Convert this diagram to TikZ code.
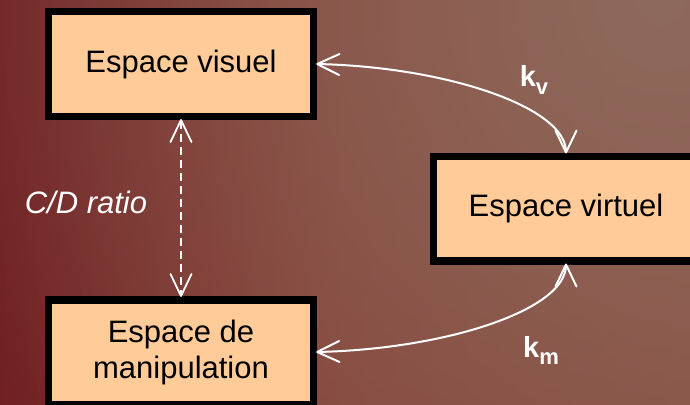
\documentclass[tikz,border=0pt]{standalone}
\usepackage{fontspec}
\setmainfont{Liberation Sans}
\usetikzlibrary{arrows.meta,fadings}
\definecolor{bgL}{RGB}{112,32,34}
\definecolor{bgM}{RGB}{134,64,55}
\definecolor{bgR}{RGB}{136,74,62}
\definecolor{bgG}{RGB}{142,106,92}
\definecolor{peach}{RGB}{255,204,153}
\pgfdeclarearrow{
  name=VBarb,
  parameters={\the\pgfarrowlength,\the\pgfarrowwidth},
  setup code={
    \pgfarrowssettipend{0pt}
    \pgfarrowssetbackend{-\pgfarrowlength}
    \pgfarrowssetlineend{-0.8pt}
    \pgfarrowshullpoint{0pt}{0pt}
    \pgfarrowsupperhullpoint{-\pgfarrowlength}{.5\pgfarrowwidth}
    \pgfarrowssavethe\pgfarrowlength
    \pgfarrowssavethe\pgfarrowwidth
  },
  drawing code={
    \pgfsetdash{}{0pt}
    \pgfsetroundcap
    \pgfsetroundjoin
    \pgfpathmoveto{\pgfqpoint{-\pgfarrowlength}{.5\pgfarrowwidth}}
    \pgfpathlineto{\pgfqpoint{0pt}{0pt}}
    \pgfpathlineto{\pgfqpoint{-\pgfarrowlength}{-.5\pgfarrowwidth}}
    \pgfusepathqstroke
  },
  defaults={length=22pt,width=21pt}
}
\tikzfading[name=trfade, inner color=transparent!0, outer color=transparent!100]
\tikzset{
  box/.style={draw=black, fill=peach, line width=7.5pt, minimum width=265pt,
    minimum height=104.5pt, inner sep=0pt, align=center,
    font=\fontsize{31}{36}\selectfont},
  link/.style={draw=white, line width=2pt, {VBarb}-{VBarb}},
  dlink/.style={link, line width=1.8pt, dash pattern=on 8pt off 5pt},
  klabel/.style={text=white, font=\bfseries\fontsize{29}{30}\selectfont, inner sep=0pt},
  cdlabel/.style={text=white, font=\itshape\fontsize{31}{36}\selectfont, inner sep=0pt}
}
\begin{document}
\begin{tikzpicture}[x=1pt,y=-1pt]
\useasboundingbox (0,0) rectangle (690,404);
\clip (0,0) rectangle (690,404);
\shade[left color=bgL, right color=bgR, middle color=bgM] (0,0) rectangle (690,404);
\fill[bgG, path fading=trfade] (660,0) circle (760pt);
\node[box] (vis) at (181,64) {Espace visuel};
\node[box] (vir) at (566,208.5) {Espace virtuel};
\node[box] (man) at (181,352) {Espace de\\manipulation};
\draw[link] (vis.east) .. controls +(130,3) and +(0,-45) .. (vir.north);
\draw[link] (man.east) .. controls +(130,-3) and +(0,45) .. (vir.south);
\draw[dlink] (vis.south) -- (man.north);
\node[klabel] (kv) at (534,80) {k\raisebox{-8pt}{\fontsize{22}{22}\selectfont v}};
\node[klabel] (km) at (541,350) {k\raisebox{-7pt}{\fontsize{22}{22}\selectfont m}};
\node[cdlabel] (cd) at (86,202) {C/D ratio};
\end{tikzpicture}
\end{document}
